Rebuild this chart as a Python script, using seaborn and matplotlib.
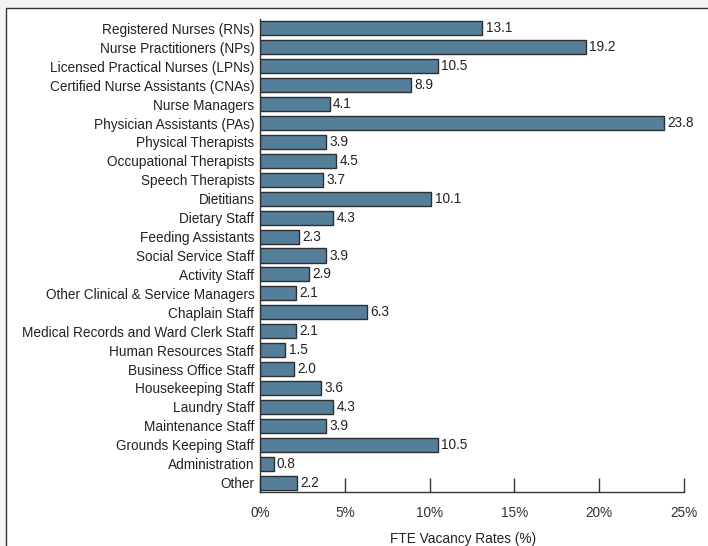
import matplotlib
matplotlib.use("Agg")
import matplotlib.pyplot as plt
import seaborn as sns
import pandas as pd
from matplotlib.patches import Rectangle

categories = [
    "Registered Nurses (RNs)", "Nurse Practitioners (NPs)", "Licensed Practical Nurses (LPNs)",
    "Certified Nurse Assistants (CNAs)", "Nurse Managers", "Physician Assistants (PAs)",
    "Physical Therapists", "Occupational Therapists", "Speech Therapists", "Dietitians",
    "Dietary Staff", "Feeding Assistants", "Social Service Staff", "Activity Staff",
    "Other Clinical & Service Managers", "Chaplain Staff", "Medical Records and Ward Clerk Staff",
    "Human Resources Staff", "Business Office Staff", "Housekeeping Staff", "Laundry Staff",
    "Maintenance Staff", "Grounds Keeping Staff", "Administration", "Other",
]
values = [13.1, 19.2, 10.5, 8.9, 4.1, 23.8, 3.9, 4.5, 3.7, 10.1, 4.3, 2.3, 3.9, 2.9,
          2.1, 6.3, 2.1, 1.5, 2.0, 3.6, 4.3, 3.9, 10.5, 0.8, 2.2]
xticks = [0, 5, 10, 15, 20, 25]
xticklabels = ["0%", "5%", "10%", "15%", "20%", "25%"]

df = pd.DataFrame({"category": categories, "value": values})

sns.set_theme(style="white")
plt.rcParams["font.family"] = ["Liberation Sans", "DejaVu Sans"]

FS = 9.85
W, H = 708, 546
fig = plt.figure(figsize=(W / 100, H / 100), dpi=100)
fig.patch.set_facecolor("#f3f3f3")
fig.patches.append(Rectangle((6 / W, -0.1), 1.2, 1.1 - 8 / H, transform=fig.transFigure,
                             facecolor="white", edgecolor="#333333", linewidth=1.0, zorder=-10))

ax = fig.add_axes([260 / W, 1 - 492 / H, (684 - 260) / W, (492 - 19) / H])
ax.set_facecolor("none")
sns.barplot(data=df, x="value", y="category", orient="h", color="#557e9a",
            edgecolor="#2e2e2e", linewidth=1.0, width=0.74, saturation=1, ax=ax)

for i, v in enumerate(values):
    ax.text(v + 0.2, i, f"{v:.1f}", va="center", ha="left", fontsize=FS, color="#222222")

ax.set_xlim(0, 25)
ax.set_ylim(len(categories) - 0.5, -0.5)
ax.set_xticks(xticks)
ax.set_xticklabels(xticklabels, fontsize=FS, color="#333333")
ax.tick_params(axis="x", direction="in", length=10, width=1, color="#333333", pad=10, bottom=True)
ax.tick_params(axis="y", length=0, labelsize=FS, labelcolor="#222222", pad=4)
ax.set_ylabel("")
ax.set_xlabel("FTE Vacancy Rates (%)", fontsize=FS, color="#222222", labelpad=9)
ax.xaxis.label.set_x(0.479)
for s in ["top", "right"]:
    ax.spines[s].set_visible(False)
for s in ["left", "bottom"]:
    ax.spines[s].set_color("#333333")
    ax.spines[s].set_linewidth(1.0)

fig.savefig("out.png", dpi=100, facecolor=fig.get_facecolor())
